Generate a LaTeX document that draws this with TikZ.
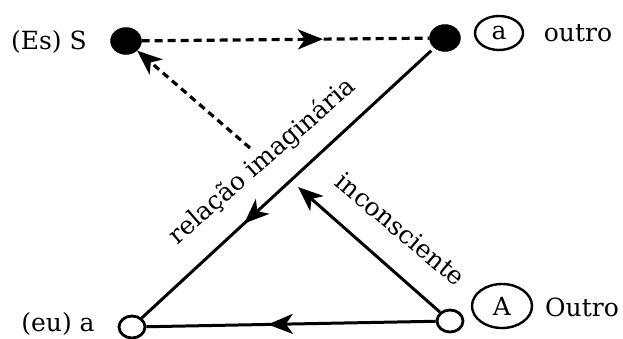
\documentclass[tikz,border=0pt]{standalone}
\usepackage{fontspec}
\setmainfont{DejaVu Serif}
\usetikzlibrary{arrows.meta,shapes.geometric,decorations.markings}

\begin{document}
\begin{tikzpicture}[x=1pt,y=-1pt,
  >={Stealth[length=25pt,width=20pt,inset=7pt]},
  lbl/.style={font=\fontsize{25}{29}\selectfont, inner sep=0pt},
  solidpt/.style={ellipse, fill=black, draw=black, minimum width=31pt, minimum height=27pt, inner sep=0pt},
  openpt/.style={ellipse, draw=black, fill=white, line width=2.8pt, minimum width=26pt, minimum height=22pt, inner sep=0pt},
  ring/.style={ellipse, draw=black, line width=2.4pt, inner sep=0pt},
  conn/.style={line width=3pt},
  dconn/.style={line width=3.2pt, dash pattern=on 8pt off 5pt},
  midarrow/.style={postaction={decorate}, decoration={markings, mark=at position #1 with {\arrow{>}}}},
]
\useasboundingbox (0,0) rectangle (623,338);

% the four corners of the schema
\node[solidpt] (S) at (126,41) {};
\node[solidpt] (a) at (445,38) {};
\node[openpt] (eu) at (132,327) {};
\node[openpt] (A) at (450,321) {};

% corner labels
\node[lbl, anchor=base] (lS) at (49,49) {(Es) S};
\node[ring, minimum width=48pt, minimum height=34pt, lbl] (ra) at (499,33) {a};
\node[lbl, anchor=base] (la) at (578,41) {outro};
\node[ring, minimum width=60pt, minimum height=44pt, lbl] (rA) at (502,306) {A};
\node[lbl, anchor=base] (lA) at (582,316) {Outro};
\node[lbl, anchor=base] (leu) at (58,331) {(eu) a};

% connectors
\coordinate (dStart) at (250,148);
\coordinate (ucEnd) at (298,187);
\draw[dconn, midarrow=0.63] (S) -- (a);
\draw[dconn, dash pattern=on 7pt off 5pt, ->] (dStart) -- (S);
\draw[conn, midarrow=0.65, shorten <=4pt] (a) -- (eu);
\draw[conn, ->] (A) -- (ucEnd);
\draw[conn, midarrow=0.58] (A) -- (eu);

% path labels
\node[lbl, anchor=base, rotate=41] (limag) at (267,167) {relação imaginária};
\node[lbl, anchor=base, rotate=-40] (linc) at (395,236) {inconsciente};
\end{tikzpicture}
\end{document}
